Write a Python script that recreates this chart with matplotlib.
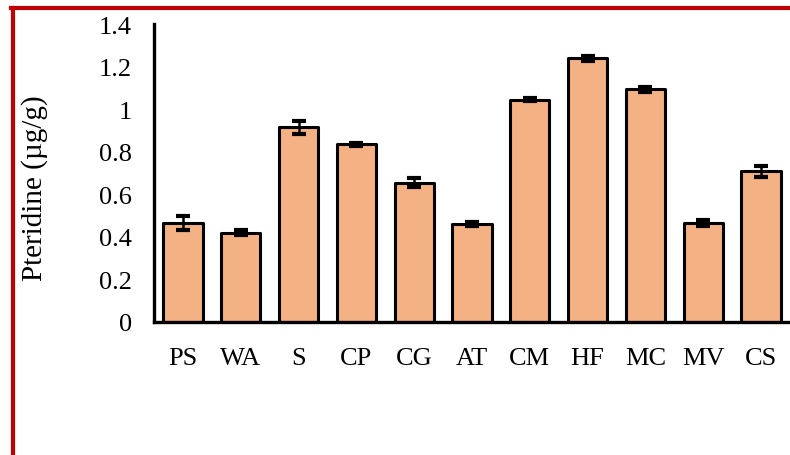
import numpy as np
import matplotlib.pyplot as plt
from matplotlib.lines import Line2D

groups = ["PS", "WA", "S", "CP", "CG", "AT", "CM", "HF", "MC", "MV", "CS"]
pteridine = [0.465, 0.42, 0.915, 0.835, 0.655, 0.46, 1.045, 1.238, 1.093, 0.465, 0.708]
err = [0.035, 0.012, 0.03, 0.008, 0.02, 0.008, 0.008, 0.01, 0.012, 0.012, 0.025]
yticks = [0, 0.2, 0.4, 0.6, 0.8, 1, 1.2, 1.4]
ytick_labels = ["0", "0.2", "0.4", "0.6", "0.8", "1", "1.2", "1.4"]

plt.rcParams["font.family"] = ["Liberation Serif", "DejaVu Serif"]

fig = plt.figure(figsize=(7.9, 4.56), dpi=100)
ax = fig.add_axes([154 / 790, 133 / 456, 636 / 790, 298 / 456])

x = np.arange(len(groups))
ax.bar(x, pteridine, width=0.68, color="#F4B183", edgecolor="black",
       linewidth=2.2, joinstyle="round", zorder=2)
ax.errorbar(x, pteridine, yerr=err, fmt="none", ecolor="black",
            elinewidth=1.8, capsize=5, capthick=3, zorder=3)

ax.set_xlim(-0.5, len(groups) - 0.5)
ax.set_ylim(0, 1.4)
ax.set_yticks(yticks)
ax.set_yticklabels(ytick_labels)
ax.set_xticks(x)
ax.set_xticklabels(groups)
ax.tick_params(axis="both", length=0, labelsize=19)
ax.tick_params(axis="y", pad=16)
ax.tick_params(axis="x", pad=18)

for side in ["top", "right"]:
    ax.spines[side].set_visible(False)
for side in ["left", "bottom"]:
    ax.spines[side].set_linewidth(2.4)
    ax.spines[side].set_zorder(4)

fig.text(35 / 790, 1 - 188 / 456, "Pteridine (µg/g)", rotation=90,
         ha="center", va="center", fontsize=21)

# red frame around the figure (left and top edges)
red = "#C00000"
fig.add_artist(Line2D([13 / 790, 13 / 790], [0, 1 - 9 / 456],
                      transform=fig.transFigure, color=red, linewidth=3))
fig.add_artist(Line2D([11 / 790, 1], [1 - 9 / 456, 1 - 9 / 456],
                      transform=fig.transFigure, color=red, linewidth=3))

fig.savefig("out.png", dpi=100)
